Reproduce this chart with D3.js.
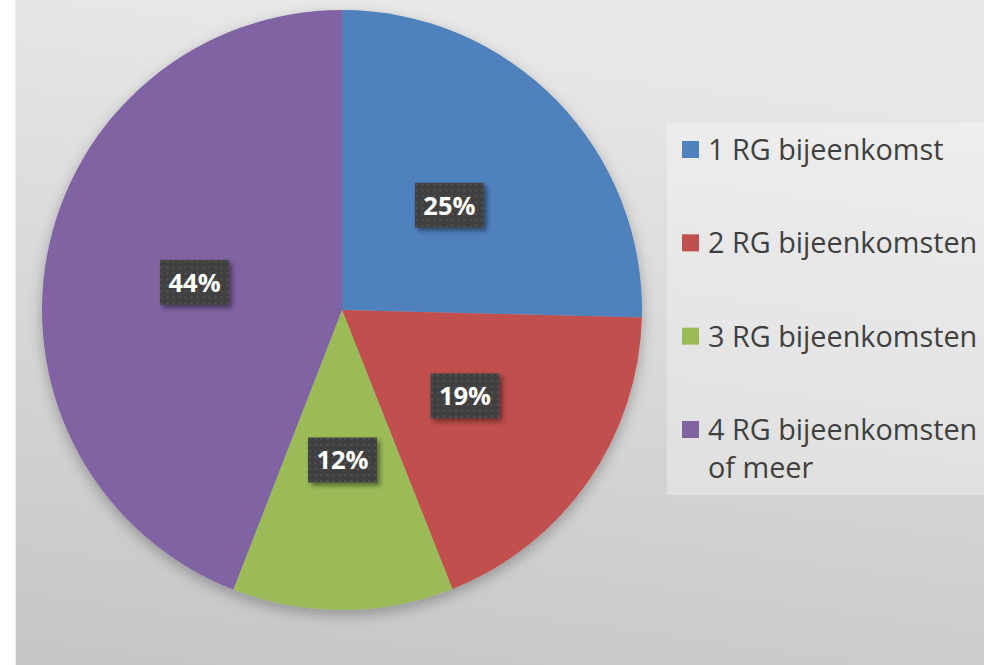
<!DOCTYPE html>
<html>
<head>
<meta charset="utf-8">
<script src="https://cdn.jsdelivr.net/npm/d3@7"></script>
<style>
  html, body { margin: 0; padding: 0; background: #ffffff; }
  svg { display: block; }
</style>
</head>
<body>
<script>
(function(){
  //chart data
  var categories = ["1 RG bijeenkomst", "2 RG bijeenkomsten", "3 RG bijeenkomsten", "4 RG bijeenkomsten of meer"];
  var legendLines = [["1 RG bijeenkomst"], ["2 RG bijeenkomsten"], ["3 RG bijeenkomsten"], ["4 RG bijeenkomsten", "of meer"]];
  var shares = [25.4, 18.6, 11.9, 44.1];
  var colors = ["#4f81bd", "#c0504d", "#9bbb59", "#8064a2"];

  //frame
  var width = 984,
      height = 665,
      cx = 342,
      cy = 310,
      radius = 300;

  var svg = d3.select("body")
      .append("svg")
      .attr("width", width)
      .attr("height", height);

  var defs = svg.append("defs");

  //background gradient
  var bg = defs.append("linearGradient")
      .attr("id", "bgGrad")
      .attr("x1", "0.3").attr("y1", "0")
      .attr("x2", "0.1").attr("y2", "1");
  bg.append("stop").attr("offset", "0").attr("stop-color", "#e8e8e8");
  bg.append("stop").attr("offset", "1").attr("stop-color", "#c6c6c6");

  //pie shadow
  var pieShadow = defs.append("filter")
      .attr("id", "pieShadow")
      .attr("x", "-20%").attr("y", "-20%")
      .attr("width", "140%").attr("height", "140%");
  pieShadow.append("feDropShadow")
      .attr("dx", 0).attr("dy", 5)
      .attr("stdDeviation", 7)
      .attr("flood-color", "#000")
      .attr("flood-opacity", 0.28);

  //label shadow
  var labelShadow = defs.append("filter")
      .attr("id", "labelShadow")
      .attr("x", "-30%").attr("y", "-30%")
      .attr("width", "160%").attr("height", "160%");
  labelShadow.append("feDropShadow")
      .attr("dx", 3).attr("dy", 3)
      .attr("stdDeviation", 2.5)
      .attr("flood-color", "#000")
      .attr("flood-opacity", 0.45);

  //dotted label pattern
  var dots = defs.append("pattern")
      .attr("id", "dots")
      .attr("width", 6).attr("height", 6)
      .attr("patternUnits", "userSpaceOnUse");
  dots.append("rect").attr("width", 6).attr("height", 6).attr("fill", "#404040");
  dots.append("rect").attr("x", 2).attr("y", 2).attr("width", 2).attr("height", 2).attr("fill", "#525252");

  //chart area
  svg.append("rect")
      .attr("x", 15.5).attr("y", -1)
      .attr("width", width - 15).attr("height", height + 2)
      .attr("fill", "url(#bgGrad)")
      .attr("stroke", "#ececec")
      .attr("stroke-width", 1);

  //pie
  var pie = d3.pie()
      .sort(null)
      .value(function(d){ return d; });

  var arc = d3.arc()
      .innerRadius(0)
      .outerRadius(radius);

  var arcs = pie(shares);

  var pieGroup = svg.append("g")
      .attr("transform", "translate(" + cx + "," + cy + ")");

  pieGroup.append("g")
      .attr("filter", "url(#pieShadow)")
      .selectAll(".slice")
      .data(arcs)
      .enter()
      .append("path")
      .attr("class", "slice")
      .attr("d", arc)
      .attr("fill", function(d, i){ return colors[i]; });

  //data labels at arc centroids
  var boxW = 69, boxH = 45;
  var labels = pieGroup.selectAll(".dataLabel")
      .data(arcs)
      .enter()
      .append("g")
      .attr("class", "dataLabel")
      .attr("transform", function(d){
          var c = arc.centroid(d);
          return "translate(" + c[0] + "," + c[1] + ")";
      });

  labels.append("rect")
      .attr("x", -boxW / 2).attr("y", -boxH / 2)
      .attr("width", boxW).attr("height", boxH)
      .attr("fill", "url(#dots)")
      .attr("filter", "url(#labelShadow)");

  labels.append("text")
      .attr("text-anchor", "middle")
      .attr("dy", "0.37em")
      .attr("font-family", "'Open Sans', sans-serif")
      .attr("font-weight", "bold")
      .attr("font-size", 25.5)
      .attr("fill", "#ffffff")
      .text(function(d){ return Math.round(d.data) + "%"; });

  //legend
  var legend = svg.append("g").attr("class", "legend");

  legend.append("rect")
      .attr("x", 667).attr("y", 123)
      .attr("width", width - 667).attr("height", 372)
      .attr("fill", "#ffffff")
      .attr("fill-opacity", 0.3);

  var rowScale = d3.scaleLinear()
      .domain([0, categories.length - 1])
      .range([160, 440]);

  var items = legend.selectAll(".legendItem")
      .data(categories)
      .enter()
      .append("g")
      .attr("class", "legendItem");

  items.append("rect")
      .attr("x", 682)
      .attr("y", function(d, i){ return rowScale(i) - 19; })
      .attr("width", 17).attr("height", 17)
      .attr("fill", function(d, i){ return colors[i]; });

  items.append("text")
      .attr("x", 708)
      .attr("y", function(d, i){ return rowScale(i); })
      .attr("font-family", "'Open Sans', sans-serif")
      .attr("font-size", 28.8)
      .attr("fill", "#404040")
      .each(function(d, i){
          var t = d3.select(this);
          legendLines[i].forEach(function(line, j){
              t.append("tspan")
                  .attr("x", 708)
                  .attr("dy", j === 0 ? 0 : 38)
                  .text(line);
          });
      });
})();
</script>
</body>
</html>
